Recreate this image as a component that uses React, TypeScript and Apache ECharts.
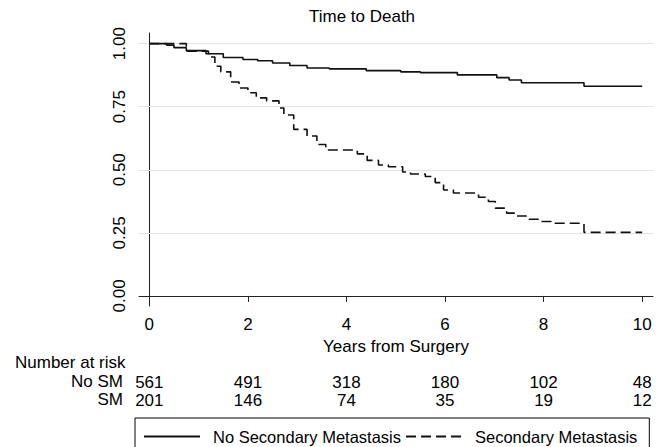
import React, { useEffect, useRef } from "react";
import * as echarts from "echarts";

// ---- data ----
const titleText = "Time to Death";
const xAxisName = "Years from Surgery";
const seriesNames = ["No Secondary Metastasis", "Secondary Metastasis"];
const riskRowNames = ["No SM", "SM"];
const riskHeader = "Number at risk";

const xTicks = [0, 2, 4, 6, 8, 10];
const yTicks = [0, 0.25, 0.5, 0.75, 1.0];
const gridValues = [0.25, 0.5, 0.75, 1.0];

const noSmAtRisk = [561, 491, 318, 180, 102, 48];
const smAtRisk = [201, 146, 74, 35, 19, 12];

const noSmTime = [0, 0.35, 0.5, 0.75, 1.15, 1.5, 1.9, 2.2, 2.5, 2.85, 3.2, 3.65, 4.4, 5.1, 5.5, 6.25, 7.05, 7.3, 7.55, 8.82, 10];
const noSmSurv = [1.0, 0.994, 0.984, 0.972, 0.96, 0.945, 0.937, 0.932, 0.923, 0.913, 0.903, 0.9, 0.893, 0.888, 0.885, 0.876, 0.865, 0.856, 0.845, 0.831, 0.831];

const smTime = [0, 0.75, 1.2, 1.33, 1.45, 1.65, 1.82, 2.0, 2.17, 2.38, 2.63, 2.73, 2.93, 3.2, 3.4, 3.58, 4.22, 4.42, 4.65, 4.85, 5.14, 5.3, 5.6, 5.8, 5.97, 6.17, 6.68, 6.88, 7.02, 7.25, 7.44, 7.65, 7.95, 8.15, 8.82, 10];
const smSurv = [1.0, 0.97, 0.947, 0.91, 0.888, 0.848, 0.824, 0.805, 0.785, 0.773, 0.745, 0.717, 0.66, 0.634, 0.6, 0.578, 0.563, 0.537, 0.519, 0.512, 0.491, 0.483, 0.473, 0.449, 0.42, 0.408, 0.391, 0.374, 0.348, 0.328, 0.317, 0.304, 0.295, 0.288, 0.252, 0.252];

const FONT = "'Liberation Sans', Arial, Helvetica, sans-serif";
const X_MIN = -0.21;
const X_MAX = 10.22;
const Y_MIN = -0.04;
const Y_MAX = 1.042;

export default function App() {
  const ref = useRef<HTMLDivElement>(null);

  useEffect(() => {
    if (!ref.current) return;
    const chart = echarts.init(ref.current, undefined, { renderer: "svg" });

    const baseX = {
      type: "value" as const,
      min: X_MIN,
      max: X_MAX,
      position: "bottom" as const,
      splitLine: { show: false },
    };

    const riskAxis = (offset: number, values: number[]) => ({
      ...baseX,
      offset,
      axisLine: { show: false },
      axisTick: { show: false },
      axisLabel: {
        customValues: xTicks,
        margin: 10,
        fontSize: 17,
        fontFamily: FONT,
        color: "#000",
        formatter: (v: number) => String(values[xTicks.indexOf(v)]),
      },
    });

    const option: any = {
      animation: false,
      backgroundColor: "#fff",
      textStyle: { fontFamily: FONT },
      title: {
        text: titleText,
        left: 357,
        top: 3,
        textAlign: "center",
        textStyle: { fontSize: 17, fontWeight: "normal", color: "#000", fontFamily: FONT },
      },
      grid: { left: 139, top: 33, width: 514, height: 273, containLabel: false },
      xAxis: [
        {
          ...baseX,
          name: xAxisName,
          nameLocation: "middle",
          nameGap: 23,
          nameTextStyle: { fontSize: 17, color: "#000", fontFamily: FONT },
          axisLine: { show: true, lineStyle: { color: "#222", width: 1 } },
          axisTick: { show: true, customValues: xTicks, length: 6, lineStyle: { color: "#222" } },
          axisLabel: {
            customValues: xTicks,
            margin: 10,
            fontSize: 17,
            fontFamily: FONT,
            color: "#000",
          },
        },
        riskAxis(58, noSmAtRisk),
        riskAxis(76, smAtRisk),
      ],
      yAxis: {
        type: "value",
        min: Y_MIN,
        max: Y_MAX,
        splitLine: { show: false },
        axisLine: { show: true, lineStyle: { color: "#222", width: 1 } },
        axisTick: { show: true, customValues: yTicks, length: 6, lineStyle: { color: "#222" } },
        axisLabel: {
          customValues: yTicks,
          rotate: 90,
          margin: 11,
          fontSize: 17,
          fontFamily: FONT,
          color: "#000",
          formatter: (v: number) => v.toFixed(2),
        },
      },
      legend: {
        data: seriesNames,
        left: 135,
        top: 418,
        orient: "horizontal",
        itemWidth: 56,
        itemHeight: 14,
        itemGap: 4,
        padding: [10, 12, 10, 8],
        borderColor: "#000",
        borderWidth: 1,
        borderRadius: 0,
        itemStyle: { opacity: 0 },
        textStyle: { fontSize: 16.5, color: "#000", fontFamily: FONT, padding: [0, 0, 0, 8] },
        selectedMode: false,
      },
      graphic: [
        {
          type: "text",
          left: 15,
          top: 354,
          style: { text: riskHeader, fontSize: 17, fontFamily: FONT, fill: "#000" },
        },
        {
          type: "text",
          right: 667 - 123,
          top: 373,
          style: { text: riskRowNames[0], fontSize: 17, fontFamily: FONT, fill: "#000" },
        },
        {
          type: "text",
          right: 667 - 123,
          top: 391,
          style: { text: riskRowNames[1], fontSize: 17, fontFamily: FONT, fill: "#000" },
        },
      ],
      series: [
        {
          name: seriesNames[0],
          type: "line",
          step: "end",
          symbol: "none",
          z: 3,
          data: noSmTime.map((t, i) => [t, noSmSurv[i]]),
          lineStyle: { color: "#111", width: 1.6, type: "solid" },
          itemStyle: { color: "#111" },
          markLine: {
            silent: true,
            z: 1,
            symbol: ["none", "none"],
            label: { show: false },
            lineStyle: { color: "#e4e4e4", width: 1.2, type: "solid" },
            data: gridValues.map((v) => ({ yAxis: v })),
          },
        },
        {
          name: seriesNames[1],
          type: "line",
          step: "end",
          symbol: "none",
          z: 3,
          data: smTime.map((t, i) => [t, smSurv[i]]),
          lineStyle: { color: "#111", width: 1.6, type: [10, 5] },
          itemStyle: { color: "#111" },
        },
      ],
    };

    chart.setOption(option);
    return () => chart.dispose();
  }, []);

  return (
    <div
      ref={ref}
      style={{ position: "fixed", left: 0, top: 0, width: 667, height: 447, background: "#fff" }}
    />
  );
}
